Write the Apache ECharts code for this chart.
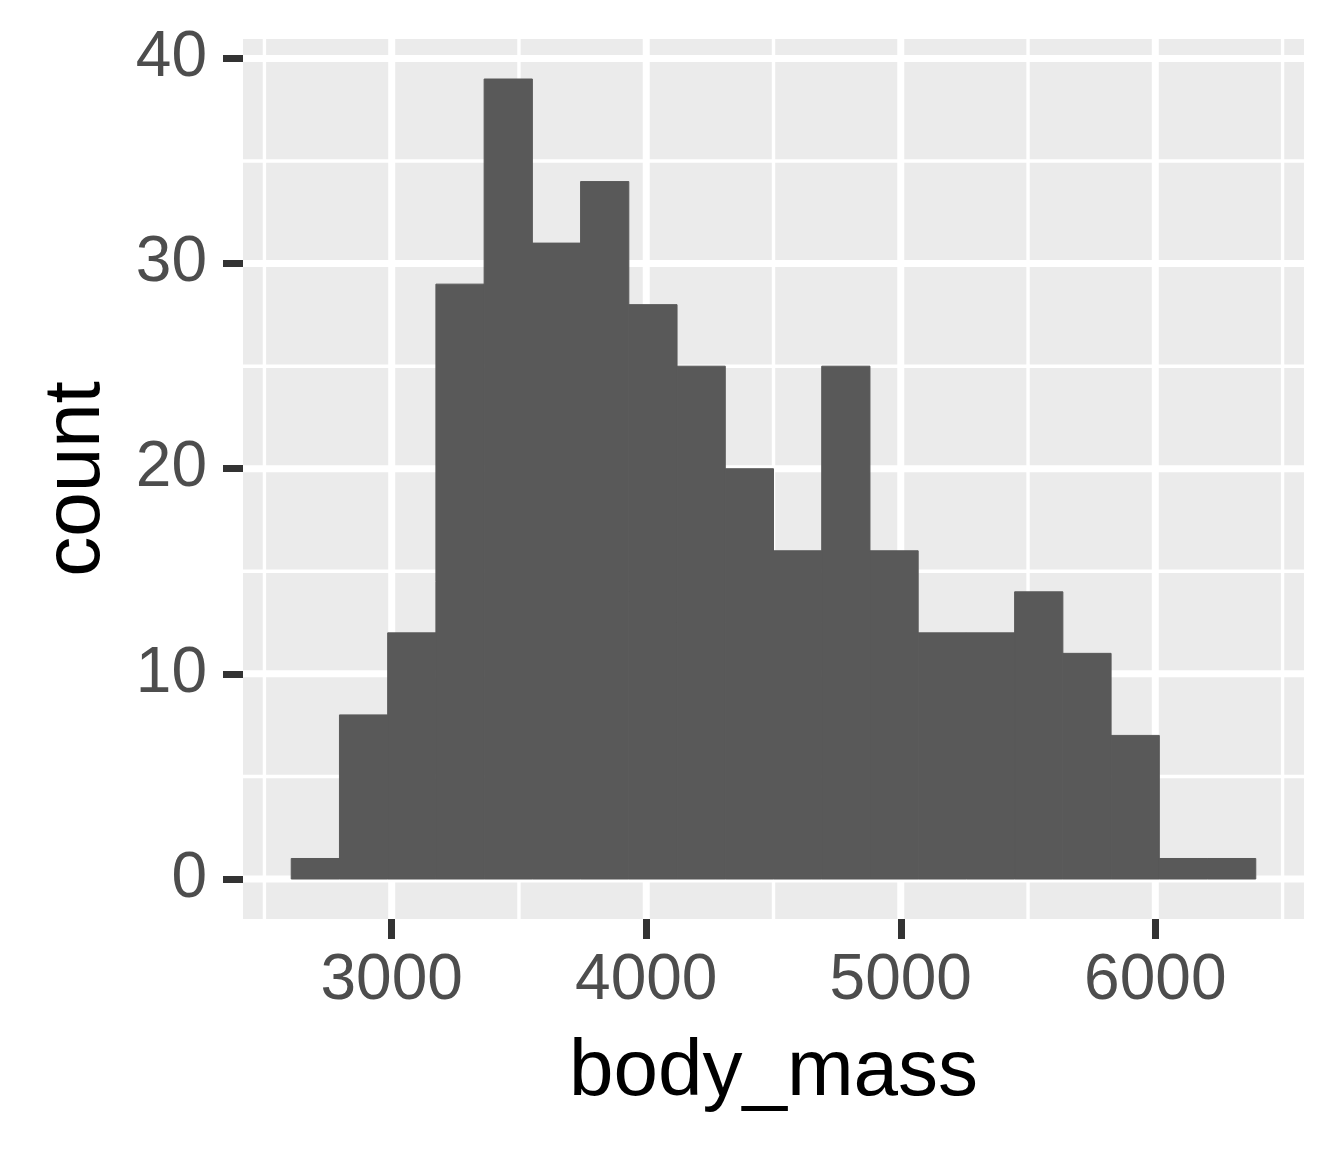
<!DOCTYPE html>
<html>
<head>
<meta charset="utf-8">
<title>body_mass histogram</title>
<script src="https://cdn.jsdelivr.net/npm/echarts@6/dist/echarts.min.js"></script>
<style>
    html, body { margin: 0; padding: 0; background: #ffffff; }
    #chart { width: 1344px; height: 1152px; }
</style>
</head>
<body>
<div id="chart"></div>
<script>
// histogram bins (20 bins, centred from 2700 to 6300)
var binStart = 2700;
var binWidth = 3600 / 19;
var counts = [1, 8, 12, 29, 39, 31, 34, 28, 25, 20, 16, 25, 16, 12, 12, 14, 11, 7, 1, 1];

// axis breaks
var xMajor = [3000, 4000, 5000, 6000];
var xMinor = [2500, 3500, 4500, 5500, 6500];
var yMajor = [0, 10, 20, 30, 40];
var yMinor = [5, 15, 25, 35];

// ggplot style 5% expansion
var xMin = binStart - binWidth / 2;
var xMax = binStart + binWidth * (counts.length - 0.5);
var xPad = (xMax - xMin) * 0.05;
var yTop = Math.max.apply(null, counts);
var yPad = yTop * 0.05;

var FONT = "'Liberation Sans', Arial, sans-serif";

var barData = counts.map(function (c, i) {
    return [binStart + i * binWidth, c];
});

function gridLines(list, dir, width) {
    return {
        type: 'custom',
        silent: true,
        z: 1,
        clip: false,
        data: list,
        encode: dir == 'x' ? { x: 0 } : { y: 0 },
        renderItem: function (params, api) {
            var cs = params.coordSys;
            var v = api.value(0);
            var shape;
            if (dir == 'x') {
                var px = api.coord([v, 0])[0];
                shape = { x1: px, y1: cs.y, x2: px, y2: cs.y + cs.height };
            } else {
                var py = api.coord([xMin, v])[1];
                shape = { x1: cs.x, y1: py, x2: cs.x + cs.width, y2: py };
            }
            return {
                type: 'line',
                shape: shape,
                style: { stroke: '#ffffff', lineWidth: width }
            };
        }
    };
}

var myChart = echarts.init(document.getElementById('chart'), null, { renderer: 'canvas' });

var option = {
    backgroundColor: '#ffffff',
    animation: false,
    grid: {
        left: 243,
        right: 40,
        top: 39,
        bottom: 233,
        show: true,
        backgroundColor: '#EBEBEB',
        borderWidth: 0
    },
    xAxis: {
        type: 'value',
        min: xMin - xPad,
        max: xMax + xPad,
        name: 'body_mass',
        nameLocation: 'middle',
        nameGap: 114,
        nameTextStyle: { fontFamily: FONT, fontSize: 80, color: '#000000' },
        axisLine: { show: false, onZero: false },
        splitLine: { show: false },
        axisTick: {
            show: true,
            length: 20,
            customValues: xMajor,
            lineStyle: { color: '#333333', width: 7 }
        },
        axisLabel: {
            customValues: xMajor,
            margin: 30,
            fontFamily: FONT,
            fontSize: 64,
            color: '#4D4D4D',
            formatter: function (v) { return String(v); }
        }
    },
    yAxis: {
        type: 'value',
        min: -yPad,
        max: yTop + yPad,
        name: 'count',
        nameLocation: 'middle',
        nameGap: 126,
        nameRotate: 90,
        nameTextStyle: { fontFamily: FONT, fontSize: 80, color: '#000000' },
        axisLine: { show: false, onZero: false },
        splitLine: { show: false },
        axisTick: {
            show: true,
            length: 20,
            customValues: yMajor,
            lineStyle: { color: '#333333', width: 7 }
        },
        axisLabel: {
            customValues: yMajor,
            margin: 36,
            fontFamily: FONT,
            fontSize: 64,
            color: '#4D4D4D'
        }
    },
    series: [
        gridLines(xMinor, 'x', 3.4),
        gridLines(yMinor, 'y', 3.4),
        gridLines(xMajor, 'x', 7),
        gridLines(yMajor, 'y', 7),
        {
            type: 'custom',
            z: 2,
            data: barData,
            encode: { x: 0, y: 1 },
            renderItem: function (params, api) {
                var c = api.value(0);
                var n = api.value(1);
                var p0 = api.coord([c - binWidth / 2, n]);
                var p1 = api.coord([c + binWidth / 2, 0]);
                return {
                    type: 'rect',
                    shape: { x: p0[0], y: p0[1], width: p1[0] - p0[0], height: p1[1] - p0[1] },
                    style: { fill: '#595959', stroke: '#595959', lineWidth: 1 }
                };
            }
        }
    ]
};

myChart.setOption(option);
window.onresize = myChart.resize;
</script>
</body>
</html>
